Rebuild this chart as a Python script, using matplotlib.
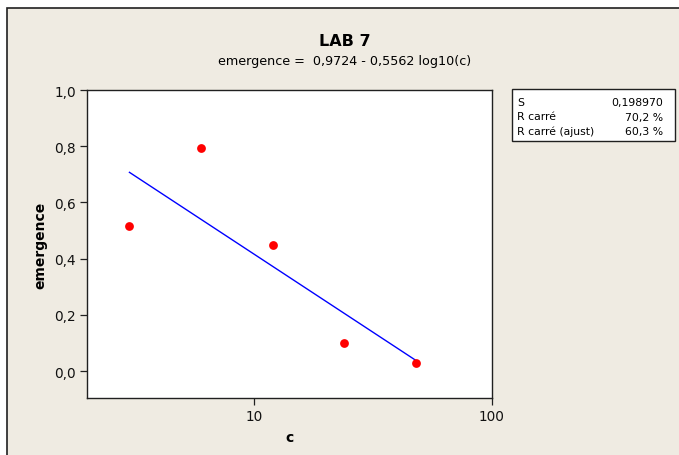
import numpy as np
import matplotlib
matplotlib.use("Agg")
import matplotlib.pyplot as plt
from matplotlib.patches import Rectangle
from matplotlib.ticker import FixedLocator, FuncFormatter, NullLocator

# Data
c_values = [3, 6, 12, 24, 48]
emergence = [0.515, 0.792, 0.448, 0.100, 0.027]
intercept = 0.9724
slope = -0.5562
stats_labels = ["S", "R carré", "R carré (ajust)"]
stats_values = ["0,198970", "70,2 %", "60,3 %"]
title = "LAB 7"
subtitle = "emergence =  0,9724 - 0,5562 log10(c)"

W, H = 679, 456
bg = "#efebe2"
plt.rcParams['font.family'] = ['DejaVu Sans']

fig = plt.figure(figsize=(W / 100, H / 100), dpi=100, facecolor="white")
# beige panel with dark frame (cut off at right/bottom)
frame = Rectangle((7 / W, -0.1), 1.2, 1.1 - 9 / H, transform=fig.transFigure,
                  facecolor=bg, edgecolor="#202020", linewidth=1.2, zorder=-5)
fig.patches.append(frame)

ax = fig.add_axes([87 / W, 1 - 399 / H, (492 - 87) / W, (399 - 91) / H])
ax.set_zorder(5)
ax.set_facecolor("white")
ax.set_xscale("log")
ax.set_xlim(1.99, 100)
ax.set_ylim(-0.096, 1.0)

ax.scatter(c_values, emergence, s=40, color="#ff0000", zorder=3, linewidths=0)
xf = np.linspace(min(c_values), max(c_values), 200)
ax.plot(xf, intercept + slope * np.log10(xf), color="#0000ff", lw=1.0, zorder=2)

ax.xaxis.set_major_locator(FixedLocator([10, 100]))
ax.xaxis.set_minor_locator(NullLocator())
ax.xaxis.set_major_formatter(FuncFormatter(lambda v, p: f"{v:g}"))
ax.set_yticks([0.0, 0.2, 0.4, 0.6, 0.8, 1.0])
ax.yaxis.set_major_formatter(FuncFormatter(lambda v, p: f"{v:.1f}".replace(".", ",")))
ax.tick_params(direction="out", length=5, width=0.9, labelsize=9.8, color="#202020",
               labelcolor="#111111", pad=3)
for sp in ax.spines.values():
    sp.set_linewidth(1.0)
    sp.set_color("#202020")

ax.set_xlabel("c", fontsize=10, fontweight="bold", labelpad=5)
ax.set_ylabel("emergence", fontsize=10, fontweight="bold", labelpad=5)

cx = 345 / W
fig.text(cx, 1 - 42 / H, title, ha="center", va="center", fontsize=11.5, fontweight="bold")
fig.text(cx, 1 - 61 / H, subtitle, ha="center", va="center", fontsize=9.2)

# stats box
fig.patches.append(Rectangle((512 / W, 1 - 142 / H), (675 - 512) / W, (142 - 90) / H,
                             transform=fig.transFigure, facecolor="white",
                             edgecolor="#202020", linewidth=1.0, zorder=1))
for i, (lab, val) in enumerate(zip(stats_labels, stats_values)):
    y = 1 - (103 + 14.5 * i) / H
    fig.text(517 / W, y, lab, ha="left", va="center", fontsize=7.8)
    fig.text(663 / W, y, val, ha="right", va="center", fontsize=7.8)

fig.savefig("out.png", dpi=100, facecolor="white")
